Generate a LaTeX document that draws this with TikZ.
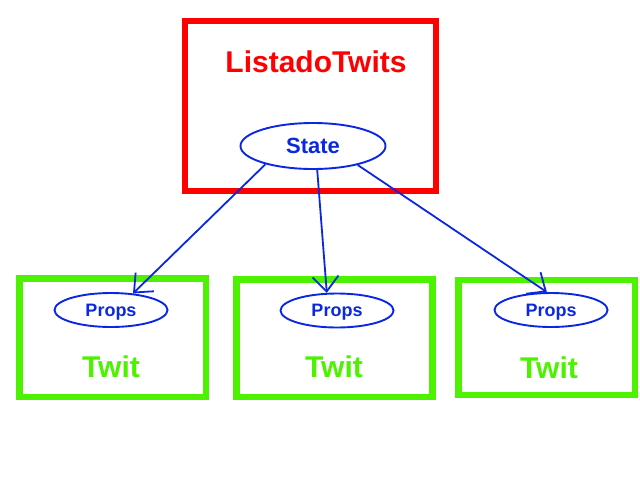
\documentclass[tikz,border=0pt]{standalone}
\usepackage{fontspec}
\setmainfont{Liberation Sans}
\usetikzlibrary{arrows.meta}
\usetikzlibrary{shapes.geometric}

\definecolor{boxred}{RGB}{255,0,0}
\definecolor{boxgreen}{RGB}{76,242,0}
\definecolor{lineblue}{RGB}{10,40,225}

\begin{document}
\begin{tikzpicture}[x=1pt, y=-1pt, >={Straight Barb[length=15pt,width=26pt]},
  every node/.style={font=\bfseries, inner sep=0pt},
  component/.style={draw, rectangle, line width=6.5pt},
  propsnode/.style={draw=lineblue, ellipse, line width=1.9pt, text=lineblue, text depth=0pt,
    minimum width=113pt, minimum height=34pt, font=\bfseries\fontsize{18}{21}\selectfont},
  twitlabel/.style={text=boxgreen, font=\bfseries\fontsize{30}{35}\selectfont},
  link/.style={->, draw=lineblue, line width=1.8pt}]
\useasboundingbox (0,0) rectangle (640,480);
% parent component
\node[component, draw=boxred, minimum width=251pt, minimum height=170pt] (listado) at (310.5,106) {};
\node[text=boxred, font=\bfseries\fontsize{30}{36}\selectfont] (title) at (316,62) {ListadoTwits};
\node[draw=lineblue, ellipse, line width=1.9pt, text=lineblue, minimum width=145pt,
  minimum height=46pt, font=\bfseries\fontsize{22}{26}\selectfont] (state) at (313,146) {State};
% children
\node[component, draw=boxgreen, minimum width=186.5pt, minimum height=118.5pt] (twitA) at (112.75,337.75) {};
\node[component, draw=boxgreen, minimum width=196pt, minimum height=117.5pt] (twitB) at (334.5,338.25) {};
\node[component, draw=boxgreen, minimum width=176.5pt, minimum height=115pt] (twitC) at (546.75,337.5) {};
\node[propsnode] (propsA) at (111,310) {Props};
\node[propsnode] (propsB) at (337,310.5) {Props};
\node[propsnode] (propsC) at (551,310) {Props};
\node[twitlabel] (labelA) at (111,367) {Twit};
\node[twitlabel] (labelB) at (334,367) {Twit};
\node[twitlabel] (labelC) at (549,368) {Twit};
% state passed down as props
\draw[link] (state.201) -- (propsA.37);
\draw[link] (state.280) -- (propsB.120);
\draw[link] (state.337) -- (propsC.103);
\end{tikzpicture}
\end{document}
